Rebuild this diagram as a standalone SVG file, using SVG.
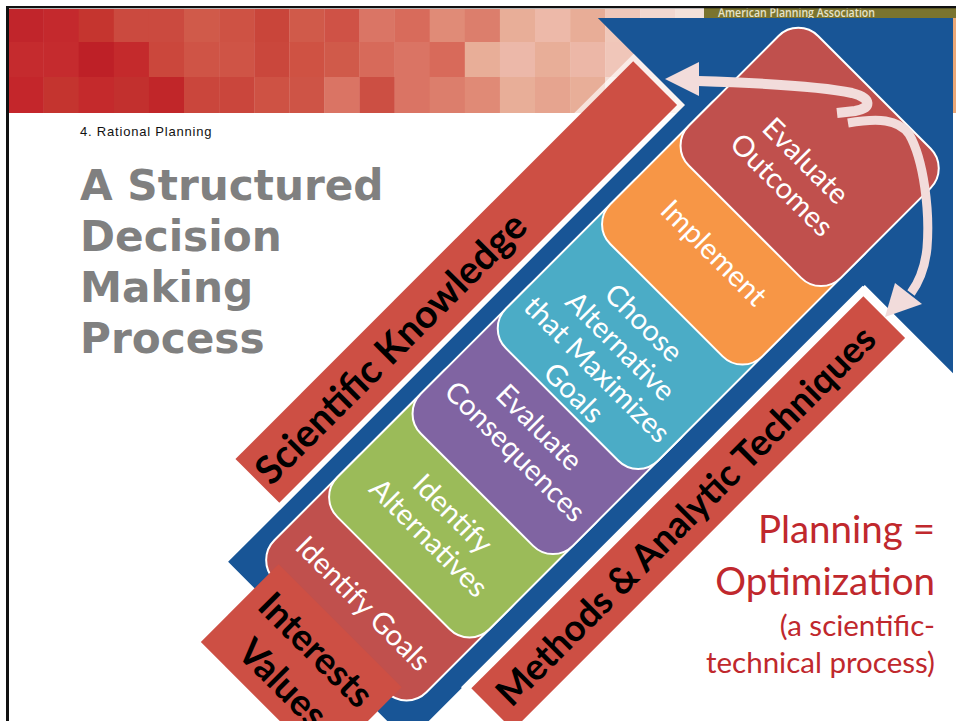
<svg xmlns="http://www.w3.org/2000/svg" width="956" height="721" viewBox="0 0 956 721">
<defs>
<style>
.step{stroke:#fff;stroke-width:2}
.lbl{font-family:Lato,"Open Sans",sans-serif;font-size:29px;fill:#fff;text-anchor:middle}
.bar{fill:#CD4F44}
.bartxt{font-family:Lato,"Open Sans",sans-serif;font-weight:bold;fill:#000;text-anchor:middle}
.ttl{font-family:"DejaVu Sans",Verdana,sans-serif;font-weight:bold;font-size:42.2px;fill:#808080}
.rib{fill:none;stroke:#F2DCDB;stroke-linecap:butt}
.big{font-family:Lato,"Open Sans",sans-serif;fill:#C0282D;text-anchor:end}
</style>
<clipPath id="clipSlide"><rect x="0" y="18" width="953" height="703"/></clipPath>
</defs>
<rect width="956" height="721" fill="#fff"/>
<g id="banner">
<rect x="8.5" y="9" width="35.4" height="33.2" fill="#C1252B"/><rect x="8.5" y="42" width="35.4" height="35.2" fill="#C52B2E"/><rect x="8.5" y="77" width="35.4" height="36" fill="#C4262B"/>
<rect x="43.6" y="9" width="35.4" height="33.2" fill="#C4292D"/><rect x="43.6" y="42" width="35.4" height="35.2" fill="#C52B2E"/><rect x="43.6" y="77" width="35.4" height="36" fill="#C4342F"/>
<rect x="78.7" y="9" width="35.4" height="33.2" fill="#C5352F"/><rect x="78.7" y="42" width="35.4" height="35.2" fill="#BE2027"/><rect x="78.7" y="77" width="35.4" height="36" fill="#C42A2C"/>
<rect x="113.8" y="9" width="35.4" height="33.2" fill="#CB4A3F"/><rect x="113.8" y="42" width="35.4" height="35.2" fill="#C42A2C"/><rect x="113.8" y="77" width="35.4" height="36" fill="#C2302E"/>
<rect x="148.9" y="9" width="35.4" height="33.2" fill="#CB4A3F"/><rect x="148.9" y="42" width="35.4" height="35.2" fill="#CB473C"/><rect x="148.9" y="77" width="35.4" height="36" fill="#C12629"/>
<rect x="184" y="9" width="35.4" height="33.2" fill="#D05A4A"/><rect x="184" y="42" width="35.4" height="35.2" fill="#CF5446"/><rect x="184" y="77" width="35.4" height="36" fill="#CA463C"/>
<rect x="219.1" y="9" width="35.4" height="33.2" fill="#CE5244"/><rect x="219.1" y="42" width="35.4" height="35.2" fill="#CF5446"/><rect x="219.1" y="77" width="35.4" height="36" fill="#CA463C"/>
<rect x="254.2" y="9" width="35.4" height="33.2" fill="#C9453A"/><rect x="254.2" y="42" width="35.4" height="35.2" fill="#CA473C"/><rect x="254.2" y="77" width="35.4" height="36" fill="#CE5244"/>
<rect x="289.3" y="9" width="35.4" height="33.2" fill="#D05A4A"/><rect x="289.3" y="42" width="35.4" height="35.2" fill="#CF5243"/><rect x="289.3" y="77" width="35.4" height="36" fill="#CE5446"/>
<rect x="324.4" y="9" width="35.4" height="33.2" fill="#CF5246"/><rect x="324.4" y="42" width="35.4" height="35.2" fill="#D05A4A"/><rect x="324.4" y="77" width="35.4" height="36" fill="#DA7464"/>
<rect x="359.5" y="9" width="35.4" height="33.2" fill="#DA7565"/><rect x="359.5" y="42" width="35.4" height="35.2" fill="#D76A5A"/><rect x="359.5" y="77" width="35.4" height="36" fill="#CC4F43"/>
<rect x="394.6" y="9" width="35.4" height="33.2" fill="#D86B5B"/><rect x="394.6" y="42" width="35.4" height="35.2" fill="#DA7464"/><rect x="394.6" y="77" width="35.4" height="36" fill="#DA7464"/>
<rect x="429.7" y="9" width="35.4" height="33.2" fill="#E08B77"/><rect x="429.7" y="42" width="35.4" height="35.2" fill="#D86A5A"/><rect x="429.7" y="77" width="35.4" height="36" fill="#DC7E6C"/>
<rect x="464.8" y="9" width="35.4" height="33.2" fill="#DC7E6C"/><rect x="464.8" y="42" width="35.4" height="35.2" fill="#E8AE98"/><rect x="464.8" y="77" width="35.4" height="36" fill="#E08A76"/>
<rect x="499.9" y="9" width="35.4" height="33.2" fill="#E8AE98"/><rect x="499.9" y="42" width="35.4" height="35.2" fill="#ECB8A9"/><rect x="499.9" y="77" width="35.4" height="36" fill="#E8AE98"/>
<rect x="535" y="9" width="35.4" height="33.2" fill="#EDB9A9"/><rect x="535" y="42" width="35.4" height="35.2" fill="#E8AE98"/><rect x="535" y="77" width="35.4" height="36" fill="#E6A48F"/>
<rect x="570.1" y="9" width="35.4" height="33.2" fill="#E8AD97"/><rect x="570.1" y="42" width="35.4" height="35.2" fill="#ECB7A7"/><rect x="570.1" y="77" width="35.4" height="36" fill="#E8AE98"/>
<rect x="605.2" y="9" width="35.4" height="33.2" fill="#F0C8BA"/><rect x="605.2" y="42" width="35.4" height="35.2" fill="#F0C6B9"/><rect x="605.2" y="77" width="35.4" height="36" fill="#F4DCD4"/>
<rect x="640.3" y="9" width="35.4" height="33.2" fill="#F2D8D0"/><rect x="640.3" y="42" width="35.4" height="35.2" fill="#F2D0C8"/><rect x="640.3" y="77" width="35.4" height="36" fill="#F4DCD4"/>
<rect x="675.4" y="9" width="281" height="33.2" fill="#F4E2DA"/><rect x="675.4" y="42" width="281" height="35.2" fill="#F4E0D8"/><rect x="675.4" y="77" width="281" height="36" fill="#F6E4DC"/>
<rect x="953" y="18" width="3" height="95" fill="#EBA877"/>
</g>
<g id="apa-bar">
<rect x="704" y="8" width="252" height="10" fill="#7A742F"/>
<text x="718" y="17" font-family="'Open Sans',Lato,sans-serif" font-weight="600" font-size="12" fill="#E8E4CA" textLength="157" lengthAdjust="spacingAndGlyphs">American Planning Association</text>
</g>
<g id="header">
<text x="80" y="135.5" font-family="'Liberation Sans',Arial,sans-serif" font-size="13" letter-spacing="0.8" fill="#111">4. Rational Planning</text>
<text class="ttl" x="80" y="200">A Structured</text>
<text class="ttl" x="80" y="251">Decision</text>
<text class="ttl" x="80" y="302">Making</text>
<text class="ttl" x="80" y="353">Process</text>
</g>
<g id="blue-arrow" clip-path="url(#clipSlide)">
<polygon transform="rotate(45)" points="558.6,236 558.6,-410 430,-410 686,-720 945,-410 813,-410 813,236" fill="#185596"/>
</g>
<g id="step-identify-goals" transform="rotate(45)">
<rect class="step" x="576" y="40" width="215" height="176" rx="28" fill="#C0504D"/>
<text class="lbl" x="683.5" y="180">Identify Goals</text>
</g>
<g id="step-identify-alternatives" transform="rotate(45)">
<rect class="step" x="576" y="-80" width="215" height="207" rx="28" fill="#9BBB59"/>
<text class="lbl" x="683.5" y="53">Identify</text>
<text class="lbl" x="683.5" y="87">Alternatives</text>
</g>
<g id="step-evaluate-consequences" transform="rotate(45)">
<rect class="step" x="576" y="-200" width="215" height="209" rx="28" fill="#8064A2"/>
<text class="lbl" x="683.5" y="-69">Evaluate</text>
<text class="lbl" x="683.5" y="-35">Consequences</text>
</g>
<g id="step-choose" transform="rotate(45)">
<rect class="step" x="576" y="-350" width="215" height="238.5" rx="28" fill="#4BACC6"/>
<text class="lbl" x="683.5" y="-217">Choose</text>
<text class="lbl" x="683.5" y="-184">Alternative</text>
<text class="lbl" x="683.5" y="-151">that Maximizes</text>
<text class="lbl" x="683.5" y="-118">Goals</text>
</g>
<g id="step-implement" transform="rotate(45)">
<rect class="step" x="576" y="-460" width="215" height="201" rx="28" fill="#F79646"/>
<text class="lbl" x="683.5" y="-316">Implement</text>
</g>
<g id="step-evaluate-outcomes" transform="rotate(45)">
<rect class="step" x="576" y="-553" width="215" height="183" rx="28" fill="#C0504D"/>
<text class="lbl" x="683.5" y="-446">Evaluate</text>
<text class="lbl" x="683.5" y="-412">Outcomes</text>
</g>
<g id="bar-scientific-knowledge">
<g transform="rotate(45)">
<rect x="486" y="-410" width="72.6" height="573" fill="#fff" fill-opacity="0.65"/>
<rect class="bar" x="491" y="-404.5" width="62" height="562.5"/>
</g>
<text class="bartxt" font-size="39" transform="translate(400.4,357.6) rotate(-45)">Scientific Knowledge</text>
</g>
<g id="bar-methods">
<g transform="rotate(45)">
<rect x="812" y="-408" width="74" height="568" fill="#fff"/>
<rect class="bar" x="820" y="-401" width="59" height="554.5"/>
</g>
<text class="bartxt" font-size="37" transform="translate(694.9,524.9) rotate(-45)">Methods &amp; Analytic Techniques</text>
</g>
<g id="box-interests-values" transform="rotate(45)">
<rect class="bar" x="596" y="202" width="174" height="110"/>
<text class="bartxt" font-size="37" x="683" y="249">Interests</text>
<text class="bartxt" font-size="37" x="683" y="296">Values</text>
</g>
<g id="connectors">
<path class="rib" stroke-width="10" d="M698,81 C760,83 820,86 852,93 C872,98 872,108 855,111 L837,113"/>
<polygon points="665,79 699,62 699,96" fill="#F2DCDB"/>
<path class="rib" stroke-width="9" d="M848,123 C878,118 898,119 909,134 C924,160 930,212 927,248 C925,268 919,282 911,293"/>
<polygon points="885,317 895,283 922,304" fill="#F2DCDB"/>
</g>
<g id="caption">
<text class="big" x="935" y="543" font-size="38.5">Planning =</text>
<text class="big" x="935" y="595" font-size="38.5">Optimization</text>
<text class="big" x="935" y="636" font-size="29.5">(a scientific-</text>
<text class="big" x="935" y="673" font-size="29.5">technical process)</text>
</g>
<g id="frame">
<rect x="6" y="6" width="950" height="2.3" fill="#111"/>
<rect x="6" y="6" width="3" height="715" fill="#111"/>
</g>
</svg>
